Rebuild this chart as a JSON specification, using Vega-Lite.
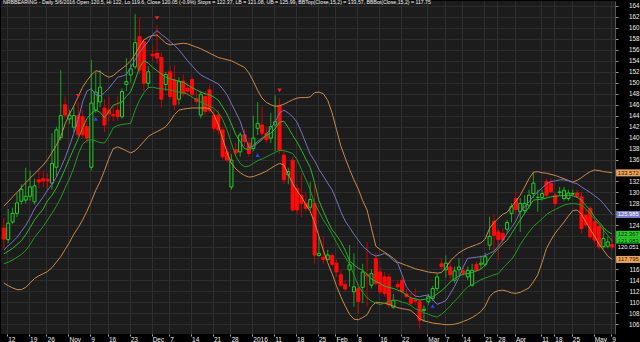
{
"$schema": "https://vega.github.io/schema/vega-lite/v6.json",
"width": 614, "height": 333,
"autosize": {"type": "none"},
"padding": {"left": 1, "top": 1, "right": 25, "bottom": 8},
"background": "#000000",
"config": {"view": {"fill": "#1c1c1c", "stroke": null}, "font": "Liberation Sans", "axis": {"labelOverlap": false, "labelSeparation": 0}, "axisY": {"labelOverlap": false}},
"title": {"text": "NRBBEARING - Daily 5/6/2016 Open 120.5, Hi 122, Lo 119.6, Close 120.05 (-0.9%) Stops = 122.37, LB = 121.08, UB = 125.99, BBTop(Close,15,2) = 133.57, BBBot(Close,15,2) = 117.75", "anchor": "start", "frame": "group", "orient": "top", "offset": -9, "baseline": "bottom", "fontSize": 5.2, "fontWeight": "normal", "color": "#eeeeee", "dx": 2},
"datasets": {
"bars": [
{"d":"2015-10-09","o":123.5,"h":125.3,"l":119.8,"c":121.5,"bt":127.5,"bb":113.5,"ub":119.5,"st":118.8,"lb":117.0},
{"d":"2015-10-12","o":121.4,"h":127.0,"l":120.8,"c":124.4,"bt":128.3,"bb":113.0,"ub":120.3,"st":119.3,"lb":117.3},
{"d":"2015-10-13","o":124.6,"h":127.2,"l":124.2,"c":126.2,"bt":129.2,"bb":112.6,"ub":121.0,"st":119.8,"lb":117.7},
{"d":"2015-10-14","o":126.2,"h":129.9,"l":125.5,"c":128.1,"bt":130.0,"bb":112.3,"ub":121.8,"st":120.5,"lb":118.2},
{"d":"2015-10-15","o":128.4,"h":131.5,"l":127.8,"c":130.6,"bt":130.9,"bb":112.3,"ub":122.9,"st":121.2,"lb":118.7},
{"d":"2015-10-16","o":128.6,"h":134.5,"l":128.0,"c":129.3,"bt":131.8,"bb":112.7,"ub":124.0,"st":122.3,"lb":119.4},
{"d":"2015-10-19","o":129.3,"h":134.0,"l":128.5,"c":131.0,"bt":132.6,"bb":113.5,"ub":125.4,"st":123.6,"lb":120.5},
{"d":"2015-10-20","o":128.3,"h":132.5,"l":127.8,"c":131.2,"bt":133.4,"bb":114.3,"ub":127.0,"st":125.0,"lb":121.8},
{"d":"2015-10-21","o":132.3,"h":134.4,"l":130.8,"c":131.9,"bt":134.2,"bb":114.8,"ub":128.1,"st":126.0,"lb":122.8},
{"d":"2015-10-23","o":132.5,"h":134.0,"l":131.0,"c":132.1,"bt":135.0,"bb":115.2,"ub":129.2,"st":127.0,"lb":123.8},
{"d":"2015-10-26","o":132.4,"h":133.5,"l":130.5,"c":132.1,"bt":136.0,"bb":115.6,"ub":130.4,"st":128.5,"lb":125.0},
{"d":"2015-10-27","o":131.7,"h":140.8,"l":130.5,"c":135.3,"bt":137.3,"bb":116.3,"ub":131.5,"st":129.5,"lb":126.2},
{"d":"2015-10-28","o":134.6,"h":142.0,"l":133.0,"c":141.4,"bt":138.6,"bb":117.3,"ub":132.8,"st":130.8,"lb":127.5},
{"d":"2015-10-29","o":140.0,"h":152.3,"l":139.5,"c":144.0,"bt":140.2,"bb":118.3,"ub":134.5,"st":132.5,"lb":129.0},
{"d":"2015-10-30","o":146.0,"h":147.5,"l":143.5,"c":144.1,"bt":142.5,"bb":119.6,"ub":136.3,"st":134.3,"lb":130.8},
{"d":"2015-11-02","o":143.4,"h":145.0,"l":142.5,"c":144.1,"bt":144.3,"bb":120.9,"ub":138.5,"st":136.2,"lb":132.5},
{"d":"2015-11-03","o":141.9,"h":145.5,"l":141.0,"c":144.0,"bt":145.8,"bb":122.4,"ub":140.8,"st":138.0,"lb":134.5},
{"d":"2015-11-04","o":144.0,"h":146.5,"l":140.0,"c":140.5,"bt":147.5,"bb":123.6,"ub":143.3,"st":139.8,"lb":137.0},
{"d":"2015-11-05","o":143.8,"h":145.0,"l":140.0,"c":140.5,"bt":149.2,"bb":125.0,"ub":146.5,"st":141.8,"lb":138.8},
{"d":"2015-11-06","o":142.0,"h":143.0,"l":139.0,"c":139.9,"bt":150.4,"bb":126.6,"ub":148.5,"st":143.5,"lb":139.5},
{"d":"2015-11-09","o":134.6,"h":154.2,"l":134.0,"c":146.3,"bt":151.4,"bb":128.4,"ub":148.9,"st":144.4,"lb":139.6},
{"d":"2015-11-10","o":145.0,"h":152.0,"l":144.5,"c":148.3,"bt":152.2,"bb":130.4,"ub":147.8,"st":145.0,"lb":139.4},
{"d":"2015-11-11","o":146.5,"h":152.3,"l":145.5,"c":149.2,"bt":152.0,"bb":132.0,"ub":147.6,"st":144.6,"lb":139.1},
{"d":"2015-11-13","o":145.4,"h":147.0,"l":141.0,"c":142.3,"bt":151.4,"bb":134.0,"ub":148.2,"st":143.6,"lb":139.0},
{"d":"2015-11-16","o":145.0,"h":147.5,"l":143.0,"c":144.3,"bt":151.0,"bb":136.2,"ub":149.0,"st":144.8,"lb":140.2},
{"d":"2015-11-17","o":144.2,"h":146.0,"l":143.0,"c":144.0,"bt":151.3,"bb":138.0,"ub":150.0,"st":145.9,"lb":141.8},
{"d":"2015-11-18","o":145.0,"h":147.5,"l":143.0,"c":143.8,"bt":152.0,"bb":138.3,"ub":151.0,"st":146.2,"lb":142.2},
{"d":"2015-11-19","o":143.8,"h":149.0,"l":143.5,"c":148.4,"bt":152.6,"bb":138.0,"ub":151.2,"st":146.5,"lb":142.4},
{"d":"2015-11-20","o":149.7,"h":154.5,"l":148.5,"c":150.2,"bt":153.2,"bb":137.6,"ub":151.5,"st":147.5,"lb":142.5},
{"d":"2015-11-23","o":151.4,"h":153.5,"l":150.0,"c":152.5,"bt":154.0,"bb":137.2,"ub":152.8,"st":148.4,"lb":142.6},
{"d":"2015-11-24","o":152.9,"h":162.5,"l":152.5,"c":157.3,"bt":155.2,"bb":137.6,"ub":154.2,"st":150.5,"lb":145.0},
{"d":"2015-11-26","o":158.4,"h":161.9,"l":151.5,"c":152.3,"bt":156.6,"bb":138.4,"ub":155.5,"st":152.8,"lb":146.8},
{"d":"2015-11-27","o":157.5,"h":158.0,"l":148.5,"c":149.9,"bt":157.8,"bb":139.3,"ub":156.6,"st":154.0,"lb":148.2},
{"d":"2015-11-30","o":149.9,"h":153.0,"l":149.0,"c":152.0,"bt":158.3,"bb":140.2,"ub":157.5,"st":153.6,"lb":149.1},
{"d":"2015-12-01","o":155.2,"h":156.5,"l":154.0,"c":154.9,"bt":158.6,"bb":140.7,"ub":158.8,"st":152.8,"lb":149.2},
{"d":"2015-12-02","o":155.4,"h":160.5,"l":153.5,"c":154.5,"bt":158.7,"bb":141.1,"ub":159.5,"st":152.2,"lb":149.0},
{"d":"2015-12-03","o":154.6,"h":155.5,"l":145.5,"c":147.0,"bt":158.0,"bb":141.5,"ub":158.8,"st":151.6,"lb":148.9},
{"d":"2015-12-04","o":149.7,"h":152.0,"l":148.5,"c":151.5,"bt":157.2,"bb":142.0,"ub":158.2,"st":151.0,"lb":148.8},
{"d":"2015-12-07","o":152.0,"h":153.0,"l":147.0,"c":147.5,"bt":156.9,"bb":143.0,"ub":157.5,"st":150.7,"lb":148.7},
{"d":"2015-12-08","o":150.5,"h":153.2,"l":145.0,"c":146.0,"bt":157.0,"bb":144.2,"ub":156.8,"st":150.5,"lb":148.5},
{"d":"2015-12-09","o":147.0,"h":151.0,"l":146.0,"c":150.2,"bt":157.1,"bb":145.0,"ub":156.0,"st":150.3,"lb":148.3},
{"d":"2015-12-10","o":150.3,"h":151.5,"l":147.5,"c":148.0,"bt":157.2,"bb":145.2,"ub":155.0,"st":150.1,"lb":148.2},
{"d":"2015-12-11","o":149.0,"h":150.0,"l":147.5,"c":148.5,"bt":157.1,"bb":145.3,"ub":154.0,"st":149.6,"lb":147.9},
{"d":"2015-12-14","o":150.6,"h":151.0,"l":147.5,"c":147.9,"bt":156.8,"bb":145.4,"ub":153.1,"st":149.1,"lb":147.4},
{"d":"2015-12-15","o":147.1,"h":148.5,"l":146.0,"c":146.6,"bt":156.5,"bb":145.4,"ub":152.2,"st":148.7,"lb":146.9},
{"d":"2015-12-16","o":144.1,"h":148.5,"l":143.5,"c":147.9,"bt":156.2,"bb":145.4,"ub":151.4,"st":148.3,"lb":146.5},
{"d":"2015-12-17","o":147.5,"h":148.5,"l":144.0,"c":144.8,"bt":155.8,"bb":145.4,"ub":151.0,"st":148.0,"lb":146.1},
{"d":"2015-12-18","o":148.7,"h":149.5,"l":144.5,"c":145.0,"bt":155.4,"bb":145.3,"ub":150.6,"st":147.8,"lb":145.8},
{"d":"2015-12-21","o":144.1,"h":145.0,"l":141.0,"c":141.7,"bt":155.0,"bb":144.2,"ub":150.2,"st":147.4,"lb":145.3},
{"d":"2015-12-22","o":144.1,"h":145.0,"l":140.5,"c":141.4,"bt":154.6,"bb":142.3,"ub":149.8,"st":146.8,"lb":144.6},
{"d":"2015-12-23","o":141.4,"h":142.0,"l":136.0,"c":136.5,"bt":154.4,"bb":139.8,"ub":148.9,"st":145.6,"lb":143.3},
{"d":"2015-12-24","o":137.4,"h":138.5,"l":135.5,"c":135.9,"bt":154.2,"bb":137.3,"ub":147.8,"st":144.3,"lb":141.4},
{"d":"2015-12-28","o":131.0,"h":137.0,"l":130.5,"c":135.9,"bt":154.0,"bb":135.3,"ub":146.2,"st":142.5,"lb":139.0},
{"d":"2015-12-29","o":137.8,"h":139.0,"l":136.5,"c":137.2,"bt":153.6,"bb":134.3,"ub":144.6,"st":140.5,"lb":136.6},
{"d":"2015-12-30","o":137.4,"h":141.0,"l":136.5,"c":140.5,"bt":153.2,"bb":133.6,"ub":143.0,"st":139.3,"lb":135.3},
{"d":"2015-12-31","o":140.5,"h":141.5,"l":138.5,"c":139.3,"bt":152.8,"bb":133.1,"ub":140.5,"st":138.0,"lb":134.7},
{"d":"2016-01-01","o":139.0,"h":140.0,"l":136.5,"c":137.1,"bt":151.8,"bb":132.8,"ub":138.2,"st":137.8,"lb":134.8},
{"d":"2016-01-04","o":138.0,"h":144.0,"l":137.5,"c":139.9,"bt":150.3,"bb":132.9,"ub":138.4,"st":138.6,"lb":135.3},
{"d":"2016-01-05","o":141.7,"h":146.5,"l":140.5,"c":142.6,"bt":148.6,"bb":133.2,"ub":139.0,"st":139.3,"lb":135.8},
{"d":"2016-01-06","o":142.3,"h":145.6,"l":140.0,"c":140.8,"bt":147.2,"bb":133.5,"ub":139.6,"st":139.9,"lb":136.1},
{"d":"2016-01-07","o":140.8,"h":142.0,"l":139.0,"c":139.6,"bt":146.4,"bb":133.9,"ub":140.6,"st":140.4,"lb":136.5},
{"d":"2016-01-08","o":139.9,"h":144.5,"l":139.0,"c":142.0,"bt":146.0,"bb":134.4,"ub":141.7,"st":140.8,"lb":136.9},
{"d":"2016-01-11","o":142.3,"h":147.7,"l":137.5,"c":142.9,"bt":145.7,"bb":134.9,"ub":142.8,"st":141.6,"lb":137.3},
{"d":"2016-01-12","o":145.9,"h":147.2,"l":137.0,"c":137.7,"bt":145.8,"bb":135.3,"ub":144.5,"st":142.8,"lb":137.7},
{"d":"2016-01-13","o":136.8,"h":137.5,"l":131.5,"c":132.3,"bt":146.1,"bb":135.0,"ub":145.0,"st":143.0,"lb":137.6},
{"d":"2016-01-14","o":133.2,"h":134.5,"l":131.5,"c":133.8,"bt":146.5,"bb":133.3,"ub":144.5,"st":141.8,"lb":137.4},
{"d":"2016-01-15","o":135.9,"h":136.5,"l":126.5,"c":126.8,"bt":146.9,"bb":131.6,"ub":143.8,"st":140.4,"lb":137.1},
{"d":"2016-01-18","o":130.7,"h":131.5,"l":126.0,"c":126.8,"bt":147.2,"bb":130.3,"ub":142.8,"st":139.2,"lb":136.0},
{"d":"2016-01-19","o":129.5,"h":133.5,"l":125.5,"c":128.0,"bt":147.3,"bb":129.2,"ub":141.0,"st":137.7,"lb":134.2},
{"d":"2016-01-20","o":128.0,"h":130.0,"l":126.5,"c":127.1,"bt":147.3,"bb":127.8,"ub":139.0,"st":136.1,"lb":132.4},
{"d":"2016-01-21","o":127.3,"h":131.9,"l":126.8,"c":128.7,"bt":147.4,"bb":126.6,"ub":137.0,"st":134.6,"lb":130.5},
{"d":"2016-01-22","o":128.0,"h":131.6,"l":117.0,"c":118.6,"bt":148.2,"bb":124.5,"ub":135.8,"st":131.8,"lb":128.0},
{"d":"2016-01-25","o":118.5,"h":122.0,"l":118.3,"c":118.9,"bt":148.3,"bb":122.0,"ub":134.2,"st":128.5,"lb":126.5},
{"d":"2016-01-27","o":118.2,"h":121.9,"l":117.0,"c":117.8,"bt":148.0,"bb":119.5,"ub":133.0,"st":126.6,"lb":125.0},
{"d":"2016-01-28","o":117.8,"h":119.5,"l":117.6,"c":118.6,"bt":146.8,"bb":117.2,"ub":131.7,"st":124.8,"lb":123.8},
{"d":"2016-01-29","o":118.5,"h":119.0,"l":116.5,"c":116.9,"bt":144.5,"bb":115.2,"ub":130.5,"st":123.2,"lb":122.4},
{"d":"2016-02-01","o":117.1,"h":117.8,"l":114.6,"c":115.5,"bt":141.5,"bb":113.0,"ub":128.6,"st":122.2,"lb":120.9},
{"d":"2016-02-02","o":115.0,"h":115.8,"l":112.8,"c":113.1,"bt":138.5,"bb":111.0,"ub":126.5,"st":121.0,"lb":119.5},
{"d":"2016-02-03","o":113.2,"h":114.0,"l":112.0,"c":112.4,"bt":136.3,"bb":109.3,"ub":124.8,"st":119.5,"lb":118.2},
{"d":"2016-02-04","o":115.9,"h":120.4,"l":112.8,"c":116.8,"bt":134.2,"bb":107.8,"ub":123.6,"st":117.5,"lb":116.9},
{"d":"2016-02-05","o":111.9,"h":118.9,"l":109.2,"c":112.8,"bt":132.3,"bb":106.9,"ub":122.4,"st":116.8,"lb":115.0},
{"d":"2016-02-08","o":112.5,"h":113.5,"l":108.0,"c":110.1,"bt":130.6,"bb":106.8,"ub":121.3,"st":116.2,"lb":113.0},
{"d":"2016-02-09","o":112.7,"h":117.0,"l":109.8,"c":115.5,"bt":128.5,"bb":107.2,"ub":120.2,"st":115.8,"lb":111.8},
{"d":"2016-02-10","o":115.0,"h":121.0,"l":109.2,"c":114.8,"bt":126.8,"bb":107.7,"ub":119.5,"st":115.1,"lb":110.8},
{"d":"2016-02-11","o":113.1,"h":116.0,"l":112.5,"c":115.2,"bt":123.5,"bb":109.2,"ub":118.8,"st":114.2,"lb":110.2},
{"d":"2016-02-12","o":118.0,"h":119.0,"l":113.0,"c":113.4,"bt":120.2,"bb":110.0,"ub":118.4,"st":113.8,"lb":109.8},
{"d":"2016-02-15","o":115.5,"h":116.5,"l":111.5,"c":111.9,"bt":119.6,"bb":109.9,"ub":118.6,"st":113.4,"lb":109.6},
{"d":"2016-02-16","o":114.6,"h":115.5,"l":111.0,"c":111.6,"bt":119.1,"bb":109.8,"ub":118.9,"st":112.9,"lb":109.8},
{"d":"2016-02-17","o":114.6,"h":115.2,"l":109.0,"c":109.5,"bt":118.6,"bb":109.6,"ub":118.4,"st":112.7,"lb":110.2},
{"d":"2016-02-18","o":109.1,"h":111.5,"l":108.8,"c":110.3,"bt":118.0,"bb":109.3,"ub":117.6,"st":112.5,"lb":110.4},
{"d":"2016-02-19","o":113.2,"h":114.0,"l":112.4,"c":112.8,"bt":117.3,"bb":109.0,"ub":117.1,"st":112.2,"lb":110.3},
{"d":"2016-02-22","o":114.0,"h":114.6,"l":111.5,"c":111.9,"bt":117.0,"bb":108.8,"ub":115.0,"st":111.9,"lb":110.0},
{"d":"2016-02-23","o":111.5,"h":112.5,"l":110.8,"c":111.0,"bt":116.7,"bb":108.7,"ub":112.8,"st":111.3,"lb":109.8},
{"d":"2016-02-24","o":110.7,"h":111.5,"l":109.5,"c":109.8,"bt":116.4,"bb":108.5,"ub":111.8,"st":110.8,"lb":109.4},
{"d":"2016-02-25","o":110.4,"h":112.5,"l":109.5,"c":110.2,"bt":116.1,"bb":107.8,"ub":111.1,"st":110.6,"lb":108.8},
{"d":"2016-02-26","o":110.1,"h":110.5,"l":105.2,"c":106.7,"bt":115.9,"bb":107.0,"ub":111.0,"st":110.4,"lb":108.5},
{"d":"2016-02-29","o":108.5,"h":109.4,"l":106.4,"c":108.7,"bt":115.7,"bb":106.6,"ub":111.2,"st":110.5,"lb":108.1},
{"d":"2016-03-01","o":110.1,"h":111.5,"l":109.5,"c":111.0,"bt":115.5,"bb":106.4,"ub":111.3,"st":110.7,"lb":107.8},
{"d":"2016-03-02","o":110.7,"h":113.0,"l":110.2,"c":112.5,"bt":115.4,"bb":106.2,"ub":110.5,"st":111.0,"lb":107.5},
{"d":"2016-03-03","o":112.5,"h":115.2,"l":112.0,"c":114.6,"bt":115.3,"bb":106.1,"ub":109.6,"st":111.5,"lb":107.3},
{"d":"2016-03-04","o":117.0,"h":118.0,"l":115.9,"c":116.5,"bt":115.4,"bb":106.0,"ub":109.9,"st":112.1,"lb":107.8},
{"d":"2016-03-08","o":115.9,"h":118.5,"l":114.5,"c":117.1,"bt":116.3,"bb":105.9,"ub":110.3,"st":112.8,"lb":108.5},
{"d":"2016-03-09","o":116.4,"h":117.5,"l":114.0,"c":115.0,"bt":117.5,"bb":105.9,"ub":111.5,"st":113.7,"lb":109.3},
{"d":"2016-03-10","o":114.0,"h":116.5,"l":113.5,"c":115.7,"bt":118.3,"bb":106.0,"ub":112.9,"st":114.3,"lb":110.2},
{"d":"2016-03-11","o":115.9,"h":118.0,"l":114.9,"c":116.4,"bt":119.0,"bb":106.2,"ub":114.5,"st":114.8,"lb":111.0},
{"d":"2016-03-14","o":115.7,"h":116.5,"l":114.8,"c":115.2,"bt":119.5,"bb":106.5,"ub":116.5,"st":115.1,"lb":112.0},
{"d":"2016-03-15","o":114.6,"h":116.5,"l":114.0,"c":115.8,"bt":119.9,"bb":106.8,"ub":118.0,"st":115.2,"lb":112.8},
{"d":"2016-03-16","o":113.1,"h":117.0,"l":112.8,"c":115.8,"bt":120.2,"bb":107.2,"ub":118.1,"st":115.4,"lb":113.2},
{"d":"2016-03-17","o":116.9,"h":117.5,"l":115.5,"c":115.8,"bt":120.5,"bb":107.7,"ub":118.2,"st":115.7,"lb":113.6},
{"d":"2016-03-18","o":116.9,"h":118.5,"l":116.0,"c":117.1,"bt":120.8,"bb":108.3,"ub":118.3,"st":116.0,"lb":114.1},
{"d":"2016-03-21","o":116.9,"h":119.0,"l":116.5,"c":118.3,"bt":121.5,"bb":109.3,"ub":118.5,"st":116.8,"lb":114.4},
{"d":"2016-03-22","o":120.4,"h":125.6,"l":119.5,"c":122.0,"bt":123.5,"bb":111.0,"ub":118.9,"st":118.0,"lb":114.7},
{"d":"2016-03-23","o":124.7,"h":125.9,"l":119.0,"c":122.2,"bt":124.5,"bb":111.8,"ub":119.3,"st":119.0,"lb":115.0},
{"d":"2016-03-28","o":122.8,"h":123.5,"l":117.7,"c":121.4,"bt":125.3,"bb":112.1,"ub":120.2,"st":119.8,"lb":115.2},
{"d":"2016-03-29","o":122.5,"h":123.5,"l":120.5,"c":121.3,"bt":126.0,"bb":112.2,"ub":121.3,"st":120.6,"lb":116.2},
{"d":"2016-03-30","o":123.3,"h":125.0,"l":122.5,"c":124.5,"bt":126.4,"bb":112.0,"ub":122.5,"st":121.3,"lb":117.0},
{"d":"2016-03-31","o":126.2,"h":128.0,"l":124.5,"c":127.4,"bt":127.4,"bb":111.7,"ub":123.6,"st":122.5,"lb":117.8},
{"d":"2016-04-01","o":128.9,"h":130.0,"l":126.0,"c":126.9,"bt":128.4,"bb":111.6,"ub":124.8,"st":123.8,"lb":119.0},
{"d":"2016-04-04","o":126.5,"h":129.0,"l":122.8,"c":128.0,"bt":129.5,"bb":111.8,"ub":126.5,"st":125.0,"lb":120.5},
{"d":"2016-04-05","o":126.7,"h":129.5,"l":126.0,"c":128.0,"bt":131.0,"bb":112.2,"ub":127.4,"st":126.2,"lb":121.7},
{"d":"2016-04-06","o":127.7,"h":130.5,"l":127.0,"c":129.5,"bt":132.5,"bb":112.6,"ub":128.3,"st":127.4,"lb":122.8},
{"d":"2016-04-07","o":129.8,"h":133.6,"l":129.0,"c":131.7,"bt":133.7,"bb":113.7,"ub":129.3,"st":128.6,"lb":123.8},
{"d":"2016-04-08","o":129.1,"h":130.5,"l":126.5,"c":129.1,"bt":133.8,"bb":115.0,"ub":130.1,"st":128.7,"lb":124.5},
{"d":"2016-04-11","o":129.1,"h":130.5,"l":128.5,"c":129.8,"bt":133.6,"bb":117.3,"ub":130.8,"st":128.8,"lb":125.2},
{"d":"2016-04-12","o":132.0,"h":132.6,"l":129.0,"c":129.5,"bt":133.5,"bb":119.8,"ub":131.6,"st":129.0,"lb":126.0},
{"d":"2016-04-13","o":131.7,"h":132.5,"l":129.8,"c":130.1,"bt":133.3,"bb":121.3,"ub":132.0,"st":129.2,"lb":126.5},
{"d":"2016-04-18","o":129.5,"h":130.0,"l":127.5,"c":128.0,"bt":133.1,"bb":122.6,"ub":132.1,"st":129.3,"lb":126.9},
{"d":"2016-04-20","o":130.0,"h":131.0,"l":129.5,"c":130.1,"bt":132.8,"bb":123.6,"ub":132.3,"st":129.4,"lb":127.3},
{"d":"2016-04-21","o":128.9,"h":131.0,"l":128.5,"c":130.4,"bt":132.5,"bb":124.6,"ub":132.3,"st":129.4,"lb":127.7},
{"d":"2016-04-22","o":128.9,"h":130.5,"l":128.5,"c":129.9,"bt":132.2,"bb":125.7,"ub":132.1,"st":129.5,"lb":127.9},
{"d":"2016-04-25","o":129.7,"h":130.5,"l":129.3,"c":129.8,"bt":131.9,"bb":126.7,"ub":131.8,"st":129.4,"lb":128.0},
{"d":"2016-04-26","o":129.9,"h":130.5,"l":129.0,"c":129.2,"bt":132.2,"bb":126.8,"ub":131.6,"st":129.1,"lb":127.9},
{"d":"2016-04-27","o":129.2,"h":130.0,"l":122.5,"c":123.4,"bt":132.7,"bb":126.0,"ub":131.0,"st":128.6,"lb":127.7},
{"d":"2016-04-28","o":125.9,"h":127.0,"l":123.5,"c":124.1,"bt":133.3,"bb":124.6,"ub":130.5,"st":127.6,"lb":127.0},
{"d":"2016-04-29","o":127.1,"h":127.5,"l":121.5,"c":121.9,"bt":133.8,"bb":123.3,"ub":130.0,"st":126.8,"lb":126.0},
{"d":"2016-05-02","o":124.7,"h":125.5,"l":120.5,"c":121.3,"bt":134.1,"bb":122.0,"ub":129.4,"st":125.5,"lb":125.1},
{"d":"2016-05-03","o":123.8,"h":124.2,"l":119.6,"c":120.1,"bt":134.0,"bb":120.6,"ub":128.8,"st":124.6,"lb":124.2},
{"d":"2016-05-04","o":120.1,"h":123.5,"l":119.8,"c":121.6,"bt":133.8,"bb":119.5,"ub":128.0,"st":123.6,"lb":123.2},
{"d":"2016-05-05","o":120.2,"h":122.0,"l":119.8,"c":121.0,"bt":133.7,"bb":118.4,"ub":127.0,"st":122.9,"lb":122.2},
{"d":"2016-05-06","o":120.5,"h":122.0,"l":119.6,"c":120.05,"bt":133.6,"bb":117.8,"ub":126.0,"st":122.4,"lb":121.1}
],
"sell": [
{"d":"2015-11-04","v":147.6},
{"d":"2015-12-02","v":161.8},
{"d":"2016-01-12","v":148.6}
],
"buy": [
{"d":"2015-11-10","v":143.4},
{"d":"2016-01-05","v":136.8},
{"d":"2016-03-02","v":109.3}
],
"last": [
{"d":"2016-05-06","s":"BBTop","v":133.572},
{"d":"2016-05-06","s":"UB","v":125.985},
{"d":"2016-05-06","s":"Stops","v":122.367},
{"d":"2016-05-06","s":"LB","v":121.083},
{"d":"2016-05-06","s":"Close","v":120.051},
{"d":"2016-05-06","s":"BBBot","v":117.795}
]
},
"layer": [
{"data": {"name": "bars"},
 "mark": {"type": "rule", "strokeWidth": 1},
 "encoding": {
  "x": {"field": "d", "type": "ordinal", "title": null,
        "scale": {"paddingInner": 0.3, "paddingOuter": 0.3},
        "axis": {"values": ["2015-10-12","2015-10-19","2015-10-26","2015-11-02","2015-11-09","2015-11-16","2015-11-23","2015-12-01","2015-12-07","2015-12-14","2015-12-21","2015-12-28","2016-01-04","2016-01-11","2016-01-18","2016-01-25","2016-02-01","2016-02-08","2016-02-15","2016-02-22","2016-03-01","2016-03-08","2016-03-14","2016-03-21","2016-03-28","2016-04-01","2016-04-11","2016-04-18","2016-04-25","2016-05-02","2016-05-06"],
                 "labelExpr": "['12','19','26','Nov','9','16','23','Dec','7','14','21','28','2016','11','18','25','Feb','8','16','22','Mar','7','14','21','28','Apr','11','18','25','May','9'][indexof(['2015-10-12','2015-10-19','2015-10-26','2015-11-02','2015-11-09','2015-11-16','2015-11-23','2015-12-01','2015-12-07','2015-12-14','2015-12-21','2015-12-28','2016-01-04','2016-01-11','2016-01-18','2016-01-25','2016-02-01','2016-02-08','2016-02-15','2016-02-22','2016-03-01','2016-03-08','2016-03-14','2016-03-21','2016-03-28','2016-04-01','2016-04-11','2016-04-18','2016-04-25','2016-05-02','2016-05-06'], datum.value)]",
                 "labelAngle": 0, "labelAlign": "left", "labelBaseline": "top", "labelPadding": 0, "labelFontSize": 6.5, "labelColor": "#eeeeee", "labelOverlap": false, "labelBound": false, "labelFlush": false,
                 "tickSize": 2, "tickColor": "#aaaaaa", "domain": false, "grid": true, "gridColor": "#2f2f2f", "bandPosition": 0.3}},
  "y": {"field": "l", "type": "quantitative", "title": null,
        "scale": {"domain": [104.2, 164.9], "nice": false, "zero": false},
        "axis": {"orient": "right", "values": [104,106,108,110,112,114,116,118,120,122,124,126,128,130,132,134,136,138,140,142,144,146,148,150,152,154,156,158,160,162,164],
                 "labelExpr": "indexof([118,120,122,126,134], datum.value) >= 0 ? '' : datum.label",
                 "labelFontSize": 6.3, "labelColor": "#eeeeee", "labelAlign": "right", "labelPadding": 21, "labelOverlap": false, "labelBound": false, "labelFlush": false, "tickSize": 3, "tickColor": "#999999", "domainColor": "#555555", "grid": true, "gridColor": "#2c2c2c"}},
  "y2": {"field": "h"},
  "color": {"condition": {"test": "datum.c >= datum.o", "value": "#1f9f1f"}, "value": "#c80000"}
 }},
{"data": {"name": "bars"},
 "mark": {"type": "bar", "strokeWidth": 1},
 "encoding": {
  "x": {"field": "d", "type": "ordinal", "title": null},
  "y": {"field": "o", "type": "quantitative", "title": null, "scale": {"domain": [104.2, 164.9], "nice": false, "zero": false}, "axis": {"orient": "right", "values": [104,106,108,110,112,114,116,118,120,122,124,126,128,130,132,134,136,138,140,142,144,146,148,150,152,154,156,158,160,162,164], "labelOverlap": false, "labelExpr": "indexof([118,120,122,126,134], datum.value) >= 0 ? '' : datum.label"}},
  "y2": {"field": "c"},
  "fill": {"condition": {"test": "datum.c >= datum.o", "value": "#1c1c1c"}, "value": "#ff0a0a"},
  "stroke": {"condition": {"test": "datum.c >= datum.o", "value": "#22d022"}, "value": "#ff0a0a"}
 }},
{"data": {"name": "bars"}, "mark": {"type": "line", "strokeWidth": 1, "color": "#c98a4b"},
 "encoding": {"x": {"field": "d", "type": "ordinal", "title": null}, "y": {"field": "bt", "type": "quantitative", "title": null, "scale": {"domain": [104.2, 164.9], "nice": false, "zero": false}, "axis": {"orient": "right", "values": [104,106,108,110,112,114,116,118,120,122,124,126,128,130,132,134,136,138,140,142,144,146,148,150,152,154,156,158,160,162,164], "labelOverlap": false, "labelExpr": "indexof([118,120,122,126,134], datum.value) >= 0 ? '' : datum.label"}}}},
{"data": {"name": "bars"}, "mark": {"type": "line", "strokeWidth": 1, "color": "#c98a4b"},
 "encoding": {"x": {"field": "d", "type": "ordinal", "title": null}, "y": {"field": "bb", "type": "quantitative", "title": null, "scale": {"domain": [104.2, 164.9], "nice": false, "zero": false}, "axis": {"orient": "right", "values": [104,106,108,110,112,114,116,118,120,122,124,126,128,130,132,134,136,138,140,142,144,146,148,150,152,154,156,158,160,162,164], "labelOverlap": false, "labelExpr": "indexof([118,120,122,126,134], datum.value) >= 0 ? '' : datum.label"}}}},
{"data": {"name": "bars"}, "mark": {"type": "line", "strokeWidth": 1, "color": "#7474be"},
 "encoding": {"x": {"field": "d", "type": "ordinal", "title": null}, "y": {"field": "ub", "type": "quantitative", "title": null, "scale": {"domain": [104.2, 164.9], "nice": false, "zero": false}, "axis": {"orient": "right", "values": [104,106,108,110,112,114,116,118,120,122,124,126,128,130,132,134,136,138,140,142,144,146,148,150,152,154,156,158,160,162,164], "labelOverlap": false, "labelExpr": "indexof([118,120,122,126,134], datum.value) >= 0 ? '' : datum.label"}}}},
{"data": {"name": "bars"}, "mark": {"type": "line", "strokeWidth": 1, "color": "#2fb52f"},
 "encoding": {"x": {"field": "d", "type": "ordinal", "title": null}, "y": {"field": "st", "type": "quantitative", "title": null, "scale": {"domain": [104.2, 164.9], "nice": false, "zero": false}, "axis": {"orient": "right", "values": [104,106,108,110,112,114,116,118,120,122,124,126,128,130,132,134,136,138,140,142,144,146,148,150,152,154,156,158,160,162,164], "labelOverlap": false, "labelExpr": "indexof([118,120,122,126,134], datum.value) >= 0 ? '' : datum.label"}}}},
{"data": {"name": "bars"}, "mark": {"type": "line", "strokeWidth": 1, "color": "#229a22"},
 "encoding": {"x": {"field": "d", "type": "ordinal", "title": null}, "y": {"field": "lb", "type": "quantitative", "title": null, "scale": {"domain": [104.2, 164.9], "nice": false, "zero": false}, "axis": {"orient": "right", "values": [104,106,108,110,112,114,116,118,120,122,124,126,128,130,132,134,136,138,140,142,144,146,148,150,152,154,156,158,160,162,164], "labelOverlap": false, "labelExpr": "indexof([118,120,122,126,134], datum.value) >= 0 ? '' : datum.label"}}}},
{"data": {"name": "sell"}, "mark": {"type": "point", "shape": "triangle-down", "filled": true, "size": 18, "color": "#ff2020", "opacity": 1},
 "encoding": {"x": {"field": "d", "type": "ordinal", "title": null}, "y": {"field": "v", "type": "quantitative", "title": null, "scale": {"domain": [104.2, 164.9], "nice": false, "zero": false}, "axis": {"orient": "right", "values": [104,106,108,110,112,114,116,118,120,122,124,126,128,130,132,134,136,138,140,142,144,146,148,150,152,154,156,158,160,162,164], "labelOverlap": false, "labelExpr": "indexof([118,120,122,126,134], datum.value) >= 0 ? '' : datum.label"}}}},
{"data": {"name": "buy"}, "mark": {"type": "point", "shape": "triangle-up", "filled": true, "size": 18, "color": "#2848ff", "opacity": 1},
 "encoding": {"x": {"field": "d", "type": "ordinal", "title": null}, "y": {"field": "v", "type": "quantitative", "title": null, "scale": {"domain": [104.2, 164.9], "nice": false, "zero": false}, "axis": {"orient": "right", "values": [104,106,108,110,112,114,116,118,120,122,124,126,128,130,132,134,136,138,140,142,144,146,148,150,152,154,156,158,160,162,164], "labelOverlap": false, "labelExpr": "indexof([118,120,122,126,134], datum.value) >= 0 ? '' : datum.label"}}}},
{"data": {"name": "last"}, "mark": {"type": "point", "shape": "M0,-1H6.8V1H0Z", "filled": true, "size": 49, "opacity": 1, "xOffset": 4},
 "encoding": {"x": {"field": "d", "type": "ordinal", "title": null}, "y": {"field": "v", "type": "quantitative", "title": null, "scale": {"domain": [104.2, 164.9], "nice": false, "zero": false}, "axis": {"orient": "right", "values": [104,106,108,110,112,114,116,118,120,122,124,126,128,130,132,134,136,138,140,142,144,146,148,150,152,154,156,158,160,162,164], "labelOverlap": false, "labelExpr": "indexof([118,120,122,126,134], datum.value) >= 0 ? '' : datum.label"}},
  "fill": {"field": "s", "type": "nominal", "legend": null, "scale": {"domain": ["BBTop","UB","Stops","LB","Close","BBBot"], "range": ["#eda45c","#7c7cc4","#28cc28","#28cc28","#000000","#eda45c"]}}}},
{"data": {"name": "last"}, "mark": {"type": "text", "align": "right", "baseline": "middle", "dx": 26.5, "fontSize": 5.8},
 "encoding": {"x": {"field": "d", "type": "ordinal", "title": null}, "y": {"field": "v", "type": "quantitative", "title": null, "scale": {"domain": [104.2, 164.9], "nice": false, "zero": false}, "axis": {"orient": "right", "values": [104,106,108,110,112,114,116,118,120,122,124,126,128,130,132,134,136,138,140,142,144,146,148,150,152,154,156,158,160,162,164], "labelOverlap": false, "labelExpr": "indexof([118,120,122,126,134], datum.value) >= 0 ? '' : datum.label"}},
  "text": {"field": "v", "type": "quantitative", "format": ".3f"},
  "color": {"field": "s", "type": "nominal", "legend": null, "scale": {"domain": ["BBTop","UB","Stops","LB","Close","BBBot"], "range": ["#1a1a1a","#ffffff","#102010","#102010","#ffffff","#1a1a1a"]}}}}
]
}
